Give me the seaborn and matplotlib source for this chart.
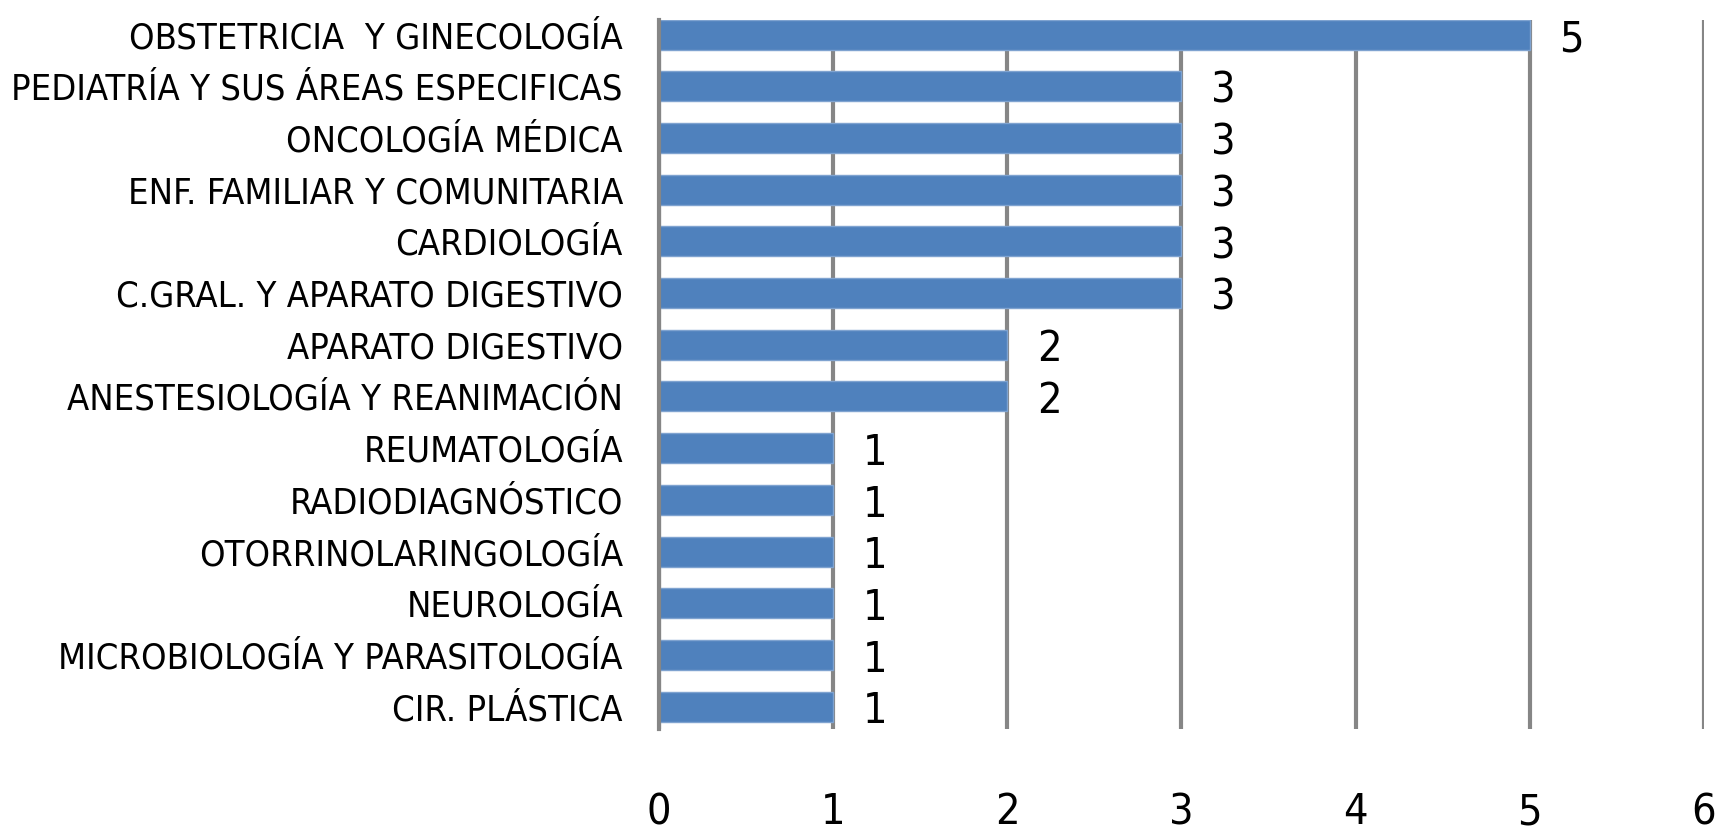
import pandas as pd
import seaborn as sns
import matplotlib.pyplot as plt

# specialties and counts, top to bottom as shown
especialidades = [
    "OBSTETRICIA  Y GINECOLOGÍA",
    "PEDIATRÍA Y SUS ÁREAS ESPECIFICAS",
    "ONCOLOGÍA MÉDICA",
    "ENF. FAMILIAR Y COMUNITARIA",
    "CARDIOLOGÍA",
    "C.GRAL. Y APARATO DIGESTIVO",
    "APARATO DIGESTIVO",
    "ANESTESIOLOGÍA Y REANIMACIÓN",
    "REUMATOLOGÍA",
    "RADIODIAGNÓSTICO",
    "OTORRINOLARINGOLOGÍA",
    "NEUROLOGÍA",
    "MICROBIOLOGÍA Y PARASITOLOGÍA",
    "CIR. PLÁSTICA",
]
valores = [5, 3, 3, 3, 3, 3, 2, 2, 1, 1, 1, 1, 1, 1]
x_ticks = [0, 1, 2, 3, 4, 5, 6]

df = pd.DataFrame({"especialidad": especialidades, "valor": valores})

sns.set_style("white")
plt.rcParams['font.family'] = ['DejaVu Sans']
plt.rcParams['font.stretch'] = 'condensed'
plt.rcParams['text.color'] = 'black'
plt.rcParams['xtick.color'] = 'black'
plt.rcParams['ytick.color'] = 'black'

fig = plt.figure(figsize=(17.31, 8.35), dpi=100)
ax = fig.add_axes([0.3807, 0.127, 0.6037, 0.849])

sns.barplot(data=df, x="valor", y="especialidad", orient="h", color="#4F81BD",
            saturation=1, width=0.58, ax=ax, edgecolor="#7FA3D0", linewidth=1)

for i, v in enumerate(valores):
    ax.text(v + 0.17, i + 0.09, str(v), va="center", ha="left", fontsize=31)

ax.set_xlim(0, 6)
ax.set_ylim(13.43, -0.28)
ax.set_xticks(x_ticks)
ax.set_xticklabels([str(t) for t in x_ticks], fontsize=31)
ax.xaxis.grid(True, color="#868686", linewidth=3)
ax.set_axisbelow(True)
ax.tick_params(axis="x", length=0, pad=45)
ax.tick_params(axis="y", length=0, pad=26, labelsize=26)
ax.set_xlabel("")
ax.set_ylabel("")
for s in ["top", "right", "bottom"]:
    ax.spines[s].set_visible(False)
ax.spines["left"].set_color("#868686")
ax.spines["left"].set_linewidth(3)

plt.savefig("out.png", dpi=100)
